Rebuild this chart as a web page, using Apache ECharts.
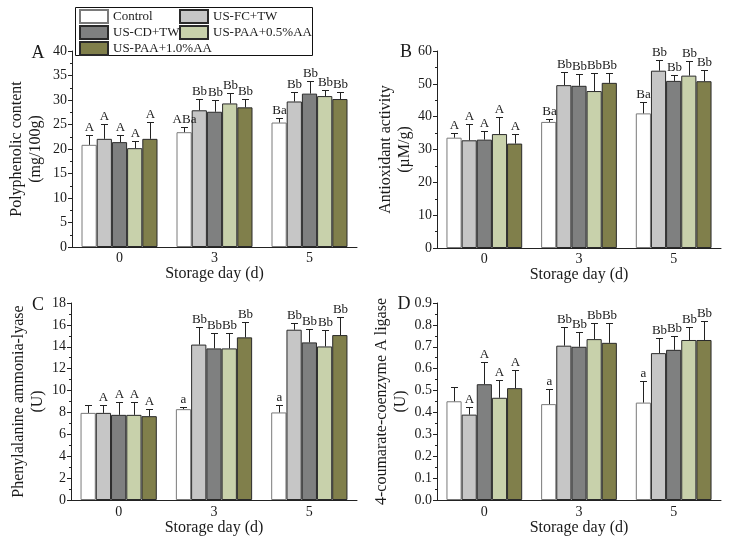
<!DOCTYPE html>
<html>
<head>
<meta charset="utf-8">
<script src="https://cdn.jsdelivr.net/npm/echarts@6/dist/echarts.min.js"></script>
<style>
html,body{margin:0;padding:0;background:#fff;}
#main{width:738px;height:539px;}
</style>
</head>
<body>
<div id="main"></div>
<script>
// ---- data ----
const categories = ['0', '3', '5'];
const seriesNames = ['Control', 'US-FC+TW', 'US-CD+TW', 'US-PAA+0.5%AA', 'US-PAA+1.0%AA'];
const seriesColors = ['#ffffff', '#c6c6c6', '#7f8080', '#c8d1ab', '#807f4b'];

// Panel A: Polyphenolic content (mg/100g)
const polyMean = [[20.85, 23.43, 25.4], [22.07, 27.9, 29.7], [21.4, 27.6, 31.3], [20.17, 29.3, 30.8], [22.07, 28.5, 30.2]];
const polySd = [[2.05, 0.97, 0.9], [3.0, 2.25, 1.9], [1.5, 2.35, 2.5], [1.5, 2.1, 1.25], [3.43, 1.65, 1.4]];
const polyLetters = [['A', 'ABa', 'Ba'], ['A', 'Bb', 'Bb'], ['A', 'Bb', 'Bb'], ['A', 'Bb', 'Bb'], ['A', 'Bb', 'Bb']];

// Panel B: Antioxidant activity (µM/g)
const antiMean = [[33.6, 38.4, 41.0], [32.8, 49.6, 54.0], [33.0, 49.4, 50.9], [34.7, 47.8, 52.5], [31.8, 50.3, 50.8]];
const antiSd = [[1.4, 1.0, 3.6], [5.0, 4.1, 3.3], [2.5, 3.7, 1.8], [5.2, 5.6, 4.6], [2.9, 3.1, 3.3]];
const antiLetters = [['A', 'Ba', 'Ba'], ['A', 'Bb', 'Bb'], ['A', 'Bb', 'Bb'], ['A', 'Bb', 'Bb'], ['A', 'Bb', 'Bb']];

// Panel C: Phenylalanine ammonia-lyase (U)
const palMean = [[7.96, 8.3, 8.0], [7.96, 14.2, 15.56], [7.78, 13.85, 14.4], [7.78, 13.85, 14.03], [7.66, 14.86, 15.07]];
const palSd = [[0.74, 0.21, 0.66], [0.74, 1.6, 0.61], [1.19, 1.4, 1.2], [1.22, 1.45, 1.53], [0.64, 1.44, 1.63]];
const palLetters = [['', 'a', 'a'], ['A', 'Bb', 'Bb'], ['A', 'Bb', 'Bb'], ['A', 'Bb', 'Bb'], ['A', 'Bb', 'Bb']];

// Panel D: 4-coumarate-coenzyme A ligase (U)
const clMean = [[0.451, 0.438, 0.445], [0.39, 0.705, 0.671], [0.529, 0.700, 0.686], [0.467, 0.735, 0.731], [0.511, 0.718, 0.731]];
const clSd = [[0.065, 0.07, 0.10], [0.034, 0.084, 0.07], [0.102, 0.069, 0.064], [0.079, 0.073, 0.059], [0.084, 0.09, 0.087]];
const clLetters = [['', 'a', 'a'], ['A', 'Bb', 'Bb'], ['A', 'Bb', 'Bb'], ['A', 'Bb', 'Bb'], ['A', 'Bb', 'Bb']];

// y-axis ticks
const yMax = [40, 60, 18, 0.9];
const yInterval = [5, 10, 2, 0.1];
const yNames = ['Polyphenolic content\n(mg/100g)', 'Antioxidant activity\n(\u00b5M/g)', 'Phenylalanine ammonia-lyase\n(U)', '4-coumarate-coenzyme A ligase\n(U)'];
const panelLetters = ['A', 'B', 'C', 'D'];
const xName = 'Storage day (d)';

// ---- chart ----
const FONT = '"Liberation Serif", "Times New Roman", "DejaVu Serif", serif';
const TXT = '#1a1a1a';
const panels = [
  {mean: polyMean, sd: polySd, letters: polyLetters},
  {mean: antiMean, sd: antiSd, letters: antiLetters},
  {mean: palMean, sd: palSd, letters: palLetters},
  {mean: clMean, sd: clSd, letters: clLetters}
];
const grids = [
  {left: 72, top: 51, width: 285, height: 196},
  {left: 437, top: 51, width: 284, height: 197},
  {left: 71, top: 303, width: 286, height: 197},
  {left: 437, top: 303, width: 284, height: 197}
];
const yNameGap = [27, 22, 24, 23];
const xNameGap = [11, 11, 15, 15];
const xLabelMargin = [4, 4, 5, 5];
const letterPos = [[38, 53], [406, 52], [38, 305], [404, 304]];

const xAxes = [], yAxes = [], series = [];
panels.forEach((p, k) => {
  xAxes.push({
    type: 'category', gridIndex: k, data: categories,
    name: xName, nameLocation: 'middle', nameGap: xNameGap[k],
    nameTextStyle: {fontFamily: FONT, fontSize: 16, color: TXT},
    axisLine: {lineStyle: {color: '#222', width: 1}},
    axisTick: {alignWithLabel: true, length: 4, lineStyle: {color: '#222'}},
    axisLabel: {fontFamily: FONT, fontSize: 14, color: TXT, margin: xLabelMargin[k]},
    splitLine: {show: false}
  });
  yAxes.push({
    type: 'value', gridIndex: k, min: 0, max: yMax[k], interval: yInterval[k],
    name: yNames[k], nameLocation: 'middle', nameGap: yNameGap[k], nameRotate: 90,
    nameTextStyle: {fontFamily: FONT, fontSize: 16, color: TXT, lineHeight: 19},
    axisLine: {show: true, lineStyle: {color: '#222', width: 1}},
    axisTick: {show: true, length: 4, lineStyle: {color: '#222'}},
    minorTick: {show: true, splitNumber: 2, length: 2, lineStyle: {color: '#222'}},
    axisLabel: {fontFamily: FONT, fontSize: 14, color: TXT, margin: 5,
      formatter: k === 3 ? (v => v.toFixed(1)) : (v => String(v))},
    splitLine: {show: false}
  });
  seriesNames.forEach((nm, s) => {
    series.push({
      type: 'bar', name: nm, xAxisIndex: k, yAxisIndex: k,
      data: p.mean[s],
      barGap: '0%', barCategoryGap: '20%',
      itemStyle: {color: seriesColors[s], borderColor: s === 0 ? '#7a7a7a' : '#2a2a2a', borderWidth: 1},
      emphasis: {disabled: true},
      animation: false
    });
  });
  const errData = [];
  for (let s = 0; s < 5; s++) {
    for (let c = 0; c < 3; c++) errData.push([c, p.mean[s][c], p.sd[s][c], s]);
  }
  series.push({
    type: 'custom', xAxisIndex: k, yAxisIndex: k, data: errData,
    encode: {x: 0, y: 1}, silent: true, animation: false, z: 5,
    renderItem: (params, api) => {
      const c = api.value(0), m = api.value(1), sd = api.value(2), s = api.value(3);
      const band = api.size([1, 0])[0];
      const bw = band * 0.8 / 5;
      const base = api.coord([c, m]);
      const top = api.coord([c, m + sd]);
      const cx = Math.round(base[0] + (s - 2) * bw) + 0.5;
      const yb = base[1], yt = Math.round(top[1]) + 0.5;
      const children = [
        {type: 'line', shape: {x1: cx, y1: yb, x2: cx, y2: yt}, style: {stroke: '#222', lineWidth: 1}},
        {type: 'line', shape: {x1: cx - 3.5, y1: yt, x2: cx + 3.5, y2: yt}, style: {stroke: '#222', lineWidth: 1}}
      ];
      const t = p.letters[s][c];
      if (t) {
        children.push({type: 'text', style: {text: t, x: cx, y: yt - 1,
          textAlign: 'center', textVerticalAlign: 'bottom', align: 'center', verticalAlign: 'bottom',
          fontFamily: FONT, fontSize: 13, fill: TXT}});
      }
      return {type: 'group', children};
    }
  });
});

const graphics = [
  {type: 'rect', left: 75, top: 7, shape: {width: 237, height: 48}, style: {fill: '#fff', stroke: '#111', lineWidth: 1}, z: 50}
];
panelLetters.forEach((L, i) => {
  graphics.push({type: 'text', x: letterPos[i][0], y: letterPos[i][1],
    style: {text: L, fontFamily: FONT, fontSize: 18, fill: TXT, textAlign: 'center', textVerticalAlign: 'middle', align: 'center', verticalAlign: 'middle'}});
});

const legendCommon = {
  orient: 'vertical', itemWidth: 28, itemHeight: 13, itemGap: 1, itemTextGap: 4,
  textStyle: {fontFamily: FONT, fontSize: 13, color: TXT}, icon: 'rect', z: 60, selectedMode: false,
  padding: 0
};

const chart = echarts.init(document.getElementById('main'), null, {renderer: 'canvas'});
chart.setOption({
  backgroundColor: '#fff',
  animation: false,
  grid: grids.map(g => Object.assign({containLabel: false}, g)),
  xAxis: xAxes,
  yAxis: yAxes,
  legend: [
    Object.assign({left: 79, top: 9, data: [seriesNames[0], seriesNames[2], seriesNames[4]]}, legendCommon),
    Object.assign({left: 179, top: 9, data: [seriesNames[1], seriesNames[3]]}, legendCommon)
  ],
  graphic: graphics,
  series: series
});
</script>
</body>
</html>
